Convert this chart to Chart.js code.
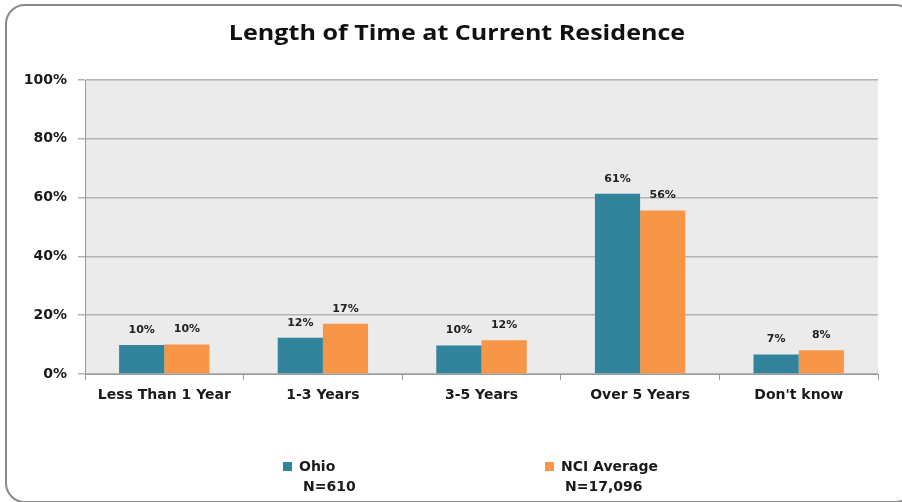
<!DOCTYPE html>
<html>
<head>
<meta charset="utf-8">
<script src="https://cdn.jsdelivr.net/npm/chart.js@4/dist/chart.umd.min.js"></script>
<style>
html,body{margin:0;padding:0;background:#fff;overflow:hidden;width:902px;height:502px;}
#frame{position:absolute;left:5px;top:4px;width:910px;height:499px;border:2px solid #8a8a8a;border-radius:20px;box-sizing:border-box;}
canvas{position:absolute;left:0;top:0;}
</style>
</head>
<body>
<div id="frame"></div>
<canvas id="c" width="902" height="502"></canvas>
<script>
const titleText = "Length of Time at Current Residence";
const categories = ["Less Than 1 Year", "1-3 Years", "3-5 Years", "Over 5 Years", "Don't know"];
const ohioValues = [9.9, 12.3, 9.7, 61.3, 6.6];
const nciValues = [10.0, 17.1, 11.5, 55.6, 8.1];
const ohioLabels = ["10%", "12%", "10%", "61%", "7%"];
const nciLabels = ["10%", "17%", "12%", "56%", "8%"];
const yTicks = [0, 20, 40, 60, 80, 100];
const seriesNames = [["Ohio", "N=610"], ["NCI Average", "N=17,096"]];
const TEAL = "#31849B", ORANGE = "#F79646";

const bgPlugin = {
  id: "plotBg",
  beforeDraw(chart) {
    const a = chart.chartArea, ctx = chart.ctx;
    ctx.save();
    ctx.fillStyle = "#ebebeb";
    ctx.fillRect(a.left, a.top, a.right - a.left, a.bottom - a.top);
    ctx.restore();
  }
};

const titlePlugin = {
  id: "wideTitle",
  afterDraw(chart) {
    const ctx = chart.ctx;
    ctx.save();
    ctx.font = "bold 22px 'Open Sans'";
    ctx.fillStyle = "#111";
    ctx.textAlign = "center";
    ctx.textBaseline = "middle";
    ctx.translate(457, 34);
    ctx.scale(1.14, 1);
    ctx.fillText(titleText, 0, 0);
    ctx.restore();
  }
};

const valueLabels = {
  id: "valueLabels",
  afterDatasetsDraw(chart) {
    const ctx = chart.ctx;
    const labelSets = [ohioLabels, nciLabels];
    ctx.save();
    ctx.font = "bold 11px 'DejaVu Sans'";
    ctx.fillStyle = "#222";
    ctx.textAlign = "center";
    ctx.textBaseline = "middle";
    chart.data.datasets.forEach((ds, di) => {
      chart.getDatasetMeta(di).data.forEach((el, i) => {
        ctx.fillText(labelSets[di][i], el.x, el.y - 15);
      });
    });
    ctx.restore();
  }
};

const customLegend = {
  id: "customLegend",
  afterDraw(chart) {
    const ctx = chart.ctx;
    const items = [
      {x: 283, color: TEAL, lines: seriesNames[0]},
      {x: 545, color: ORANGE, lines: seriesNames[1]}
    ];
    ctx.save();
    ctx.font = "bold 14px 'DejaVu Sans'";
    ctx.textBaseline = "middle";
    ctx.textAlign = "left";
    items.forEach(it => {
      ctx.fillStyle = it.color;
      ctx.fillRect(it.x, 462, 9, 9);
      ctx.fillStyle = "#1a1a1a";
      ctx.fillText(it.lines[0], it.x + 16, 467);
      ctx.fillText(it.lines[1], it.x + 20, 487);
    });
    ctx.restore();
  }
};

new Chart(document.getElementById("c"), {
  type: "bar",
  data: {
    labels: categories,
    datasets: [
      {label: "Ohio", data: ohioValues, backgroundColor: TEAL, borderWidth: 0},
      {label: "NCI Average", data: nciValues, backgroundColor: ORANGE, borderWidth: 0}
    ]
  },
  options: {
    responsive: false,
    animation: false,
    layout: {padding: {left: 0, right: 24, top: 80, bottom: 0}},
    datasets: {bar: {categoryPercentage: 0.57, barPercentage: 1.0}},
    plugins: {
      legend: {display: false},
      tooltip: {enabled: false},
      title: {display: false}
    },
    scales: {
      x: {
        afterFit(s) { s.height = 128; },
        grid: {offset: true, drawOnChartArea: false, drawTicks: true, tickLength: 6, color: "#9a9a9a", lineWidth: 1},
        border: {display: true, color: "#9a9a9a", width: 1},
        ticks: {color: "#1a1a1a", padding: 7, font: {family: "'DejaVu Sans'", size: 14, weight: "bold"}, maxRotation: 0}
      },
      y: {
        min: 0, max: 100,
        afterFit(s) { s.width = 85; },
        afterBuildTicks(s) { s.ticks = yTicks.map(v => ({value: v})); },
        grid: {color: "#b4b4b4", lineWidth: 1.5, drawTicks: true, tickLength: 7},
        border: {display: true, color: "#9a9a9a", width: 1},
        ticks: {color: "#1a1a1a", padding: 11, font: {family: "'DejaVu Sans'", size: 14, weight: "bold"}, callback: v => v + "%"}
      }
    }
  },
  plugins: [bgPlugin, valueLabels, customLegend, titlePlugin]
});
</script>
</body>
</html>
